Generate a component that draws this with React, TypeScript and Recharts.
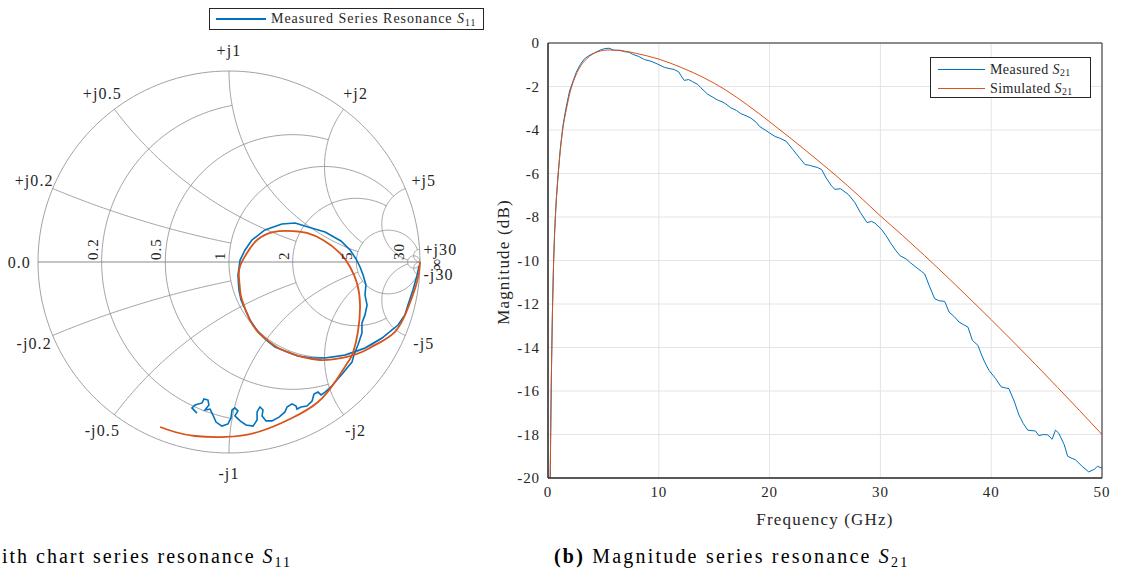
import React from "react";
import {
  ScatterChart,
  Scatter,
  LineChart,
  Line,
  XAxis,
  YAxis,
  CartesianGrid,
} from "recharts";

const FONT = '"Liberation Serif", "DejaVu Serif", serif';
const BLUE = "#0072BD";
const ORANGE = "#D95319";
const AXIS = "#262626";

// Smith chart grid: circle values and how far each one is drawn
const smithGridValues = [0.2, 0.5, 1, 2, 5, 30];
const smithGridLimits = [1, 2, 5, 5, 30, Infinity];

const measuredS11Re = [
  -0.168, -0.194, -0.178, -0.141, -0.131, -0.11, -0.105, -0.126, -0.099, -0.084,
  -0.068, -0.037, -0.005, 0.01, 0.016, 0.031, 0.047, 0.031, 0.058, 0.089,
  0.126, 0.147, 0.147, 0.162, 0.178, 0.173, 0.194, 0.225, 0.262, 0.293,
  0.304, 0.33, 0.351, 0.356, 0.377, 0.408, 0.435, 0.445, 0.466, 0.482,
  0.503, 0.534, 0.565, 0.597, 0.618, 0.644, 0.654, 0.675, 0.696, 0.696,
  0.712, 0.723, 0.712, 0.717, 0.702, 0.686, 0.665, 0.634, 0.586, 0.503,
  0.414, 0.346, 0.277, 0.188, 0.12, 0.084, 0.058, 0.047, 0.052, 0.063,
  0.084, 0.11, 0.152, 0.194, 0.241, 0.319, 0.361, 0.435, 0.503, 0.607,
  0.712, 0.801, 0.885, 0.921, 0.937, 0.963, 0.984, 0.995,
];
const measuredS11Im = [
  -0.791, -0.764, -0.749, -0.738, -0.717, -0.723, -0.749, -0.775, -0.77, -0.801,
  -0.838, -0.859, -0.848, -0.817, -0.775, -0.764, -0.78, -0.806, -0.832, -0.853,
  -0.859, -0.827, -0.785, -0.759, -0.775, -0.806, -0.832, -0.832, -0.812, -0.785,
  -0.759, -0.743, -0.754, -0.77, -0.759, -0.754, -0.728, -0.691, -0.681, -0.696,
  -0.681, -0.654, -0.618, -0.581, -0.555, -0.524, -0.487, -0.435, -0.372, -0.319,
  -0.277, -0.225, -0.173, -0.12, -0.068, -0.026, 0.016, 0.063, 0.11, 0.157,
  0.183, 0.204, 0.199, 0.168, 0.115, 0.063, 0.01, -0.068, -0.147, -0.199,
  -0.246, -0.304, -0.366, -0.408, -0.445, -0.476, -0.492, -0.503, -0.503, -0.487,
  -0.45, -0.398, -0.33, -0.277, -0.225, -0.147, -0.073, -0.021,
];
const simulatedS11Re = [
  -0.361, -0.283, -0.178, -0.021, 0.152, 0.33, 0.466, 0.555, 0.623, 0.649,
  0.675, 0.686, 0.67, 0.634, 0.581, 0.492, 0.408, 0.335, 0.23, 0.147,
  0.094, 0.058, 0.052, 0.058, 0.068, 0.11, 0.152, 0.199, 0.257, 0.319,
  0.382, 0.476, 0.555, 0.618, 0.696, 0.764, 0.869, 0.937, 0.984, 1.0,
];
const simulatedS11Im = [
  -0.864, -0.89, -0.911, -0.916, -0.89, -0.817, -0.733, -0.628, -0.524, -0.476,
  -0.366, -0.225, -0.11, -0.026, 0.047, 0.115, 0.152, 0.162, 0.157, 0.115,
  0.047, -0.021, -0.079, -0.147, -0.199, -0.304, -0.366, -0.408, -0.45, -0.476,
  -0.497, -0.513, -0.508, -0.497, -0.471, -0.435, -0.366, -0.241, -0.105, 0.0,
];

// S21 magnitude (dB) against frequency (GHz)
const measuredFreq = [
  0.1, 0.2, 0.3, 0.4, 0.5, 0.6, 0.75, 0.9, 1.1, 1.35, 1.6, 1.95, 2.3, 2.55, 2.9,
  3.3, 3.8, 4.2, 4.7, 5.1, 5.5, 6.0, 6.5, 6.9, 7.3, 7.65, 8.2, 8.7, 9.3, 9.9,
  10.5, 11.0, 11.4, 11.8, 12.0, 12.3, 12.7, 13.05, 13.5, 13.8, 14.4, 14.9, 15.3,
  15.7, 16.05, 16.5, 17.0, 17.4, 17.9, 18.3, 18.8, 19.1, 19.6, 20.0, 20.5, 20.9,
  21.5, 22.1, 22.7, 23.2, 23.6, 23.9, 24.3, 24.7, 25.1, 25.6, 25.9, 26.4, 27.1,
  27.7, 28.2, 28.8, 29.2, 29.5, 30.1, 30.5, 30.9, 31.4, 31.8, 32.3, 32.7, 33.2,
  33.7, 34.0, 34.4, 34.9, 35.3, 35.8, 36.2, 36.7, 37.1, 37.5, 37.9, 38.3, 38.8,
  39.1, 39.4, 39.8, 40.4, 40.9, 41.3, 41.6, 42.1, 42.5, 42.9, 43.3, 44.0, 44.3,
  44.7, 45.1, 45.5, 45.8, 46.1, 46.6, 46.9, 47.3, 47.6, 48.2, 48.8, 49.1, 49.3,
  49.6, 50.0,
];
const measuredMag = [
  -27, -20, -15.5, -12.4, -10.2, -8.7, -7.2, -6.2, -4.9, -3.8, -3.05, -2.2, -1.7,
  -1.35, -1.0, -0.72, -0.55, -0.45, -0.33, -0.26, -0.24, -0.34, -0.33, -0.4,
  -0.42, -0.52, -0.62, -0.76, -0.84, -0.97, -1.12, -1.18, -1.22, -1.33, -1.5,
  -1.72, -1.68, -1.78, -1.9, -2.06, -2.35, -2.5, -2.62, -2.7, -2.8, -2.98, -3.1,
  -3.25, -3.35, -3.45, -3.65, -3.84, -4.0, -4.14, -4.3, -4.37, -4.52, -4.9,
  -5.28, -5.59, -5.62, -5.67, -5.72, -5.82, -6.2, -6.58, -6.73, -6.7, -6.96,
  -7.34, -7.8, -8.26, -8.2, -8.28, -8.57, -8.85, -9.18, -9.55, -9.79, -9.92,
  -10.1, -10.3, -10.5, -10.62, -11.15, -11.76, -11.85, -11.88, -12.37, -12.6,
  -12.83, -12.95, -13.06, -13.67, -13.9, -14.3, -14.66, -15.05, -15.43, -15.81,
  -15.86, -15.89, -16.5, -17.1, -17.5, -17.8, -17.84, -18.05, -18.0, -18.02,
  -18.22, -17.8, -17.94, -18.48, -19.0, -19.1, -19.16, -19.46, -19.72, -19.65,
  -19.6, -19.46, -19.55,
];
const simulatedFreq = [
  0.1, 0.2, 0.3, 0.4, 0.5, 0.6, 0.75, 0.9, 1.1, 1.35, 1.6, 2.0, 2.5, 3.0, 3.5,
  4.0, 4.5, 5.0, 5.5, 6.0, 7, 8, 9, 10, 12, 14, 16, 18, 20, 22, 24, 26, 28, 30,
  32, 34, 36, 38, 40, 42, 44, 46, 48, 50,
];
const simulatedMag = [
  -27, -20, -15.5, -12.4, -10.2, -8.7, -7.2, -6.1, -5.0, -3.9, -3.2, -2.25, -1.5,
  -1.02, -0.72, -0.52, -0.4, -0.34, -0.32, -0.33, -0.38, -0.48, -0.6, -0.74,
  -1.12, -1.58, -2.15, -2.85, -3.62, -4.42, -5.25, -6.1, -7.0, -7.95, -8.85,
  -9.78, -10.74, -11.72, -12.72, -13.74, -14.78, -15.84, -16.91, -18.0,
];

const freqTicks = [0, 10, 20, 30, 40, 50];
const magTicks = [-20, -18, -16, -14, -12, -10, -8, -6, -4, -2, 0];

// ---- Smith chart helpers ----
const gam = (r: number, x: number) => {
  const d = (r + 1) * (r + 1) + x * x;
  return { x: (r * r - 1 + x * x) / d, y: (2 * x) / d };
};

const rCircle = (r: number, lim: number) => {
  const c = r / (1 + r);
  const rho = 1 / (1 + r);
  let a1 = 0;
  if (lim !== Infinity) {
    const g = gam(r, lim);
    a1 = Math.atan2(g.y, g.x - c);
  }
  const pts = [];
  const n = 180;
  for (let i = 0; i <= n; i++) {
    const a = a1 + ((2 * Math.PI - 2 * a1) * i) / n;
    pts.push({ x: c + rho * Math.cos(a), y: rho * Math.sin(a) });
  }
  return pts;
};

const xArc = (xv: number, lim: number) => {
  const cy = 1 / xv;
  const rad = Math.abs(1 / xv);
  const g0 = gam(0, xv);
  const g1 = lim === Infinity ? { x: 1, y: 0 } : gam(lim, xv);
  const a0 = Math.atan2(g0.y - cy, g0.x - 1);
  let d = Math.atan2(g1.y - cy, g1.x - 1) - a0;
  while (d > Math.PI) d -= 2 * Math.PI;
  while (d < -Math.PI) d += 2 * Math.PI;
  const pts = [];
  const n = 120;
  for (let i = 0; i <= n; i++) {
    const a = a0 + (d * i) / n;
    pts.push({ x: 1 + rad * Math.cos(a), y: cy + rad * Math.sin(a) });
  }
  return pts;
};

const gridCurves: { x: number; y: number }[][] = [rCircle(0, Infinity)];
smithGridValues.forEach((v, i) => {
  const lim = smithGridLimits[i];
  gridCurves.push(rCircle(v, lim));
  gridCurves.push(xArc(v, lim));
  gridCurves.push(xArc(-v, lim));
});
const realAxis = [
  { x: -1, y: 0 },
  { x: 1, y: 0 },
];

const rLabels = smithGridValues.map((v) => ({
  x: (v - 1) / (v + 1),
  y: 0,
  label: String(v),
}));
const xLabels: { x: number; y: number; label: string; start: boolean }[] = [];
smithGridValues.forEach((v) => {
  [1, -1].forEach((s) => {
    const g = gam(0, s * v);
    const k = v >= 30 ? 1.02 : 1.105;
    xLabels.push({
      x: g.x * k,
      y: g.y * k,
      label: (s > 0 ? "+j" : "-j") + v,
      start: v >= 30,
    });
  });
});
const edgeLabels = [
  { x: -1, y: 0, label: "0.0", rot: 0 },
  { x: 1, y: 0, label: "\u221E", rot: 90 },
];

const measuredS11 = measuredS11Re.map((re, i) => ({ x: re, y: measuredS11Im[i] }));
const simulatedS11 = simulatedS11Re.map((re, i) => ({ x: re, y: simulatedS11Im[i] }));

const measuredS21 = measuredFreq.map((f, i) => ({ f, mag: measuredMag[i] }));
const simulatedS21 = simulatedFreq.map((f, i) => ({ f, mag: simulatedMag[i] }));

const noDot = () => <g />;

const Sub = ({ children }: { children: React.ReactNode }) => (
  <span style={{ fontSize: "0.7em", position: "relative", top: "0.3em", fontStyle: "normal" }}>
    {children}
  </span>
);

// Smith chart geometry: center (229, 262), radius 191 px
const SMITH_W = 500;
const SMITH_H = 524;
const CX = 229;
const CY = 262;
const RAD = 191;

const labelStyle = { letterSpacing: "0.07em" };

const SmithChart = () => (
  <ScatterChart width={SMITH_W} height={SMITH_H} margin={{ top: 0, right: 0, bottom: 0, left: 0 }}>
    <XAxis
      type="number"
      dataKey="x"
      domain={[-CX / RAD, (SMITH_W - CX) / RAD]}
      allowDataOverflow
      hide
    />
    <YAxis
      type="number"
      dataKey="y"
      domain={[-(SMITH_H - CY) / RAD, CY / RAD]}
      allowDataOverflow
      hide
    />
    <Scatter
      data={realAxis}
      fill="#b0b0b0"
      line={{ stroke: "#b0b0b0", strokeWidth: 1.6 }}
      shape={noDot}
      isAnimationActive={false}
    />
    {gridCurves.map((pts, i) => (
      <Scatter
        key={`g-${i}`}
        data={pts}
        fill="#8a8a8a"
        line={{ stroke: "#8a8a8a", strokeWidth: 0.8 }}
        shape={noDot}
        isAnimationActive={false}
      />
    ))}
    <Scatter
      data={measuredS11}
      fill={BLUE}
      line={{ stroke: BLUE, strokeWidth: 1.6 }}
      shape={noDot}
      isAnimationActive={false}
    />
    <Scatter
      data={simulatedS11}
      fill={ORANGE}
      line={{ stroke: ORANGE, strokeWidth: 1.8 }}
      lineJointType="natural"
      shape={noDot}
      isAnimationActive={false}
    />
    <Scatter
      data={rLabels}
      isAnimationActive={false}
      shape={(p: any) => {
        const x = p.cx - 4;
        const y = p.cy - 2;
        return (
          <text
            x={x}
            y={y}
            transform={`rotate(-90 ${x} ${y})`}
            textAnchor="start"
            fontSize={15}
            fontFamily={FONT}
            fill={AXIS}
            style={labelStyle}
          >
            {p.payload.label}
          </text>
        );
      }}
    />
    <Scatter
      data={xLabels}
      isAnimationActive={false}
      shape={(p: any) => (
        <text
          x={p.cx}
          y={p.cy}
          textAnchor={p.payload.start ? "start" : "middle"}
          dominantBaseline="central"
          fontSize={16}
          fontFamily={FONT}
          fill={AXIS}
          style={labelStyle}
        >
          {p.payload.label}
        </text>
      )}
    />
    <Scatter
      data={edgeLabels}
      isAnimationActive={false}
      shape={(p: any) => {
        if (p.payload.rot) {
          const x = p.cx + 17;
          const y = p.cy + 3;
          return (
            <text
              x={x}
              y={y}
              transform={`rotate(90 ${x} ${y})`}
              textAnchor="middle"
              dominantBaseline="central"
              fontSize={17}
              fontFamily={FONT}
              fill={AXIS}
            >
              {p.payload.label}
            </text>
          );
        }
        return (
          <text
            x={p.cx - 7}
            y={p.cy}
            textAnchor="end"
            dominantBaseline="central"
            fontSize={16}
            fontFamily={FONT}
            fill={AXIS}
            style={labelStyle}
          >
            {p.payload.label}
          </text>
        );
      }}
    />
  </ScatterChart>
);

const tickStyle = { fill: AXIS, fontSize: 15, fontFamily: FONT, letterSpacing: "0.06em" };

const MagnitudeChart = () => (
  <LineChart width={635} height={570} margin={{ top: 43, right: 23, bottom: 62, left: 0 }}>
    <CartesianGrid stroke="#e4e4e4" strokeWidth={1} />
    <XAxis
      type="number"
      dataKey="f"
      domain={[0, 50]}
      ticks={freqTicks}
      allowDataOverflow
      height={30}
      tickLine={false}
      axisLine={{ stroke: AXIS }}
      tick={tickStyle}
    />
    <XAxis
      xAxisId="bottomTicks"
      type="number"
      dataKey="f"
      orientation="bottom"
      mirror
      domain={[0, 50]}
      ticks={freqTicks}
      tick={false}
      tickSize={5}
      tickLine={{ stroke: AXIS }}
      axisLine={{ stroke: AXIS }}
    />
    <XAxis
      xAxisId="top"
      type="number"
      dataKey="f"
      orientation="top"
      mirror
      domain={[0, 50]}
      ticks={freqTicks}
      tick={false}
      tickSize={5}
      tickLine={{ stroke: AXIS }}
      axisLine={{ stroke: AXIS }}
    />
    <YAxis
      type="number"
      dataKey="mag"
      domain={[-20, 0]}
      ticks={magTicks}
      allowDataOverflow
      width={58}
      tickLine={false}
      axisLine={{ stroke: AXIS }}
      tick={tickStyle}
    />
    <YAxis
      yAxisId="leftTicks"
      type="number"
      orientation="left"
      mirror
      domain={[-20, 0]}
      ticks={magTicks}
      tick={false}
      tickSize={5}
      tickLine={{ stroke: AXIS }}
      axisLine={{ stroke: AXIS }}
    />
    <YAxis
      yAxisId="right"
      type="number"
      orientation="right"
      mirror
      domain={[-20, 0]}
      ticks={magTicks}
      tick={false}
      tickSize={5}
      tickLine={{ stroke: AXIS }}
      axisLine={{ stroke: AXIS }}
    />
    <Line
      data={measuredS21}
      dataKey="mag"
      stroke={BLUE}
      strokeWidth={1}
      dot={false}
      isAnimationActive={false}
    />
    <Line
      data={simulatedS21}
      dataKey="mag"
      type="monotone"
      stroke={ORANGE}
      strokeWidth={1}
      dot={false}
      isAnimationActive={false}
    />
  </LineChart>
);

const abs = (style: React.CSSProperties): React.CSSProperties => ({
  position: "absolute",
  fontFamily: FONT,
  whiteSpace: "nowrap",
  lineHeight: 1,
  letterSpacing: "0.07em",
  ...style,
});

const LegendLine = ({ color, width, weight }: { color: string; width: number; weight: number }) => (
  <span
    style={{
      display: "inline-block",
      width,
      height: 0,
      borderTop: `${weight}px solid ${color}`,
      verticalAlign: "middle",
      marginRight: 5,
    }}
  />
);

export default function App() {
  return (
    <div
      style={{
        position: "absolute",
        left: 0,
        top: 0,
        width: 1125,
        height: 570,
        overflow: "hidden",
        background: "#fff",
        color: "#000",
      }}
    >
      <div style={{ position: "absolute", left: 0, top: 0 }}>
        <SmithChart />
      </div>
      <div style={{ position: "absolute", left: 490, top: 0 }}>
        <MagnitudeChart />
      </div>

      {/* Smith chart legend */}
      <div
        style={abs({
          left: 209,
          top: 8,
          width: 267,
          height: 20,
          border: "1px solid #262626",
          background: "#fff",
          fontSize: 14,
          letterSpacing: "0.07em",
          color: AXIS,
          display: "flex",
          alignItems: "center",
          paddingLeft: 6,
          boxSizing: "content-box",
        })}
      >
        <LegendLine color={BLUE} width={50} weight={2} />
        <span>
          Measured Series Resonance <i>S</i>
          <Sub>11</Sub>
        </span>
      </div>

      {/* Magnitude legend */}
      <div
        style={abs({
          left: 930,
          top: 57,
          width: 152,
          height: 39,
          border: "1px solid #262626",
          background: "#fff",
          fontSize: 14,
          letterSpacing: "0.03em",
          color: AXIS,
          paddingLeft: 7,
          boxSizing: "content-box",
        })}
      >
        <div style={{ height: 19, display: "flex", alignItems: "center", marginTop: 2 }}>
          <LegendLine color={BLUE} width={47} weight={1.3} />
          <span>
            Measured <i>S</i>
            <Sub>21</Sub>
          </span>
        </div>
        <div style={{ height: 19, display: "flex", alignItems: "center" }}>
          <LegendLine color={ORANGE} width={47} weight={1.3} />
          <span>
            Simulated <i>S</i>
            <Sub>21</Sub>
          </span>
        </div>
      </div>

      {/* axis titles */}
      <div
        style={abs({
          left: 503,
          top: 262,
          fontSize: 17,
          color: AXIS,
          transform: "translate(-50%, -50%) rotate(-90deg)",
        })}
      >
        Magnitude (dB)
      </div>
      <div
        style={abs({
          left: 825,
          top: 519,
          fontSize: 17,
          color: AXIS,
          transform: "translate(-50%, -50%)",
        })}
      >
        Frequency (GHz)
      </div>

      {/* captions; the left one is cropped by the figure edge in the source */}
      <div style={abs({ right: 1125 - 292, top: 546, fontSize: 20, letterSpacing: "0.1em" })}>
        ith chart series resonance <i>S</i>
        <Sub>11</Sub>
      </div>
      <div style={abs({ left: 554, top: 546, fontSize: 20, letterSpacing: "0.11em" })}>
        <b>(b)</b> Magnitude series resonance <i>S</i>
        <Sub>21</Sub>
      </div>
    </div>
  );
}
